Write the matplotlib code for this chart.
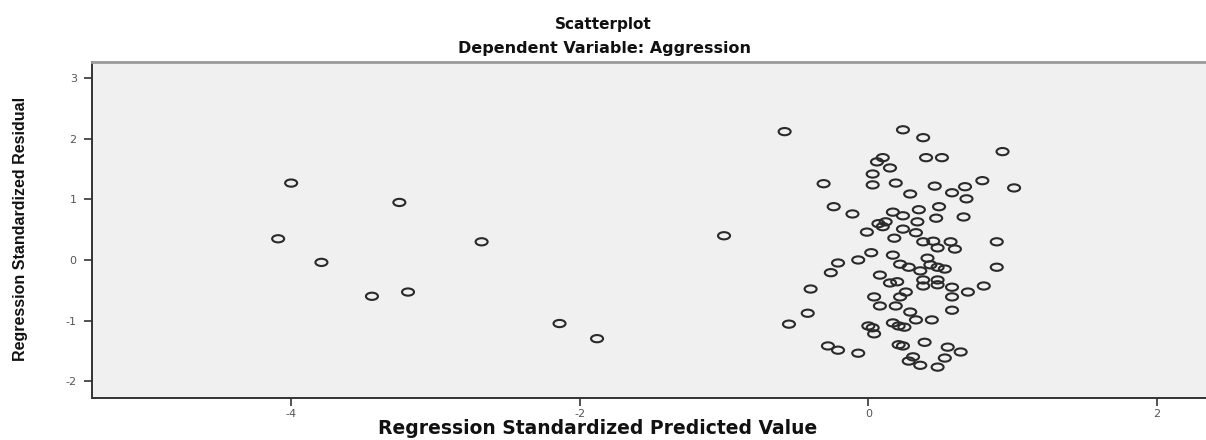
import matplotlib.pyplot as plt
from matplotlib.path import Path
from matplotlib.markers import MarkerStyle
from matplotlib.transforms import Affine2D

# Regression Standardized Predicted Value (x) and Residual (y)
pred = [-4.00, -3.25, -4.09, -2.68, -3.79, -3.44, -3.19, -2.14, -1.88, -1.00,
        -0.58, 0.24, 0.38, 0.93, 0.10, 0.06, 0.15, 0.03, 0.40, 0.51,
        -0.31, 0.03, 0.19, 0.46, 0.67, 0.79, 1.01, 0.29, 0.58, 0.68,
        -0.24, -0.11, 0.17, 0.24, 0.35, 0.49, 0.47, 0.66, 0.07, 0.10,
        0.12, -0.01, 0.24, 0.34, 0.33, 0.18, 0.38, 0.45, 0.57, 0.48,
        0.60, 0.89, 0.02, 0.17, 0.41, -0.21, -0.07, 0.22, 0.28, 0.36,
        0.43, 0.48, 0.53, 0.89, -0.26, 0.08, -0.40, 0.15, 0.20, 0.38,
        0.48, 0.38, 0.48, 0.58, 0.80, 0.69, 0.26, 0.22, 0.04, 0.58,
        -0.42, 0.08, 0.19, 0.29, 0.58, -0.55, 0.00, 0.03, 0.04, 0.17,
        0.21, 0.25, 0.33, 0.44, -0.28, -0.21, -0.07, 0.21, 0.24, 0.39,
        0.55, 0.64, 0.53, 0.31, 0.28, 0.36, 0.48]
resid = [1.27, 0.95, 0.35, 0.30, -0.04, -0.60, -0.53, -1.05, -1.30, 0.40,
         2.12, 2.15, 2.02, 1.79, 1.69, 1.62, 1.52, 1.42, 1.69, 1.69,
         1.26, 1.24, 1.27, 1.22, 1.21, 1.31, 1.19, 1.09, 1.11, 1.01,
         0.88, 0.76, 0.79, 0.73, 0.83, 0.88, 0.69, 0.71, 0.60, 0.55,
         0.63, 0.46, 0.51, 0.63, 0.45, 0.36, 0.30, 0.31, 0.30, 0.20,
         0.18, 0.30, 0.12, 0.08, 0.03, -0.05, 0.00, -0.07, -0.12, -0.18,
         -0.08, -0.12, -0.15, -0.12, -0.21, -0.25, -0.48, -0.38, -0.36, -0.33,
         -0.33, -0.43, -0.41, -0.45, -0.43, -0.53, -0.53, -0.61, -0.61, -0.61,
         -0.88, -0.76, -0.76, -0.86, -0.83, -1.06, -1.09, -1.12, -1.22, -1.04,
         -1.09, -1.11, -0.99, -0.99, -1.42, -1.49, -1.54, -1.40, -1.42, -1.36,
         -1.44, -1.52, -1.62, -1.60, -1.67, -1.74, -1.77]

x_ticks = [-4, -2, 0, 2]
y_ticks = [-2, -1, 0, 1, 2, 3]

# SPSS circles come out flattened in this (stretched) export
ellipse = Path.unit_circle().transformed(Affine2D().scale(1.0, 0.6))
marker = MarkerStyle(ellipse)

fig = plt.figure(figsize=(12.06, 4.4), dpi=100)
ax = fig.add_axes([92 / 1206, 1 - 398 / 440, 1 - 92 / 1206, (398 - 62) / 440])
ax.set_facecolor('#f0f0f0')

ax.scatter(pred, resid, marker=marker, s=75, facecolors='none',
           edgecolors='#2a2a2a', linewidths=1.5)

ax.set_xlim(-5.38, 2.34)
ax.set_ylim(-2.28, 3.27)
ax.set_xticks(x_ticks)
ax.set_yticks(y_ticks)
ax.set_xticklabels([str(t) for t in x_ticks])
ax.set_yticklabels([str(t) for t in y_ticks])
ax.tick_params(axis='both', direction='out', length=6, width=1.2,
               labelsize=8, labelcolor='#555555', color='#333333')
ax.tick_params(axis='y', pad=5)
ax.tick_params(axis='x', pad=2)

for side in ['left', 'bottom']:
    ax.spines[side].set_color('#333333')
    ax.spines[side].set_linewidth(1.4)
ax.spines['top'].set_color('#9a9a9a')
ax.spines['top'].set_linewidth(2.0)
ax.spines['right'].set_visible(False)

fig.text(603 / 1206, 1 - 25 / 440, 'Scatterplot', ha='center', va='center',
         fontsize=11, fontweight='bold', color='#111111')
fig.text(605 / 1206, 1 - 49 / 440, 'Dependent Variable: Aggression',
         ha='center', va='center', fontsize=11.5, fontweight='bold',
         color='#111111')
fig.text(598 / 1206, 1 - 428 / 440, 'Regression Standardized Predicted Value',
         ha='center', va='center', fontsize=13.5, fontweight='bold',
         color='#111111')
fig.text(21 / 1206, 1 - 229 / 440, 'Regression Standardized Residual',
         rotation=90, ha='center', va='center', fontsize=11.5,
         fontweight='bold', color='#111111',
         family=['Liberation Sans Narrow', 'Liberation Sans', 'DejaVu Sans'])

fig.savefig('out.png', dpi=100)
